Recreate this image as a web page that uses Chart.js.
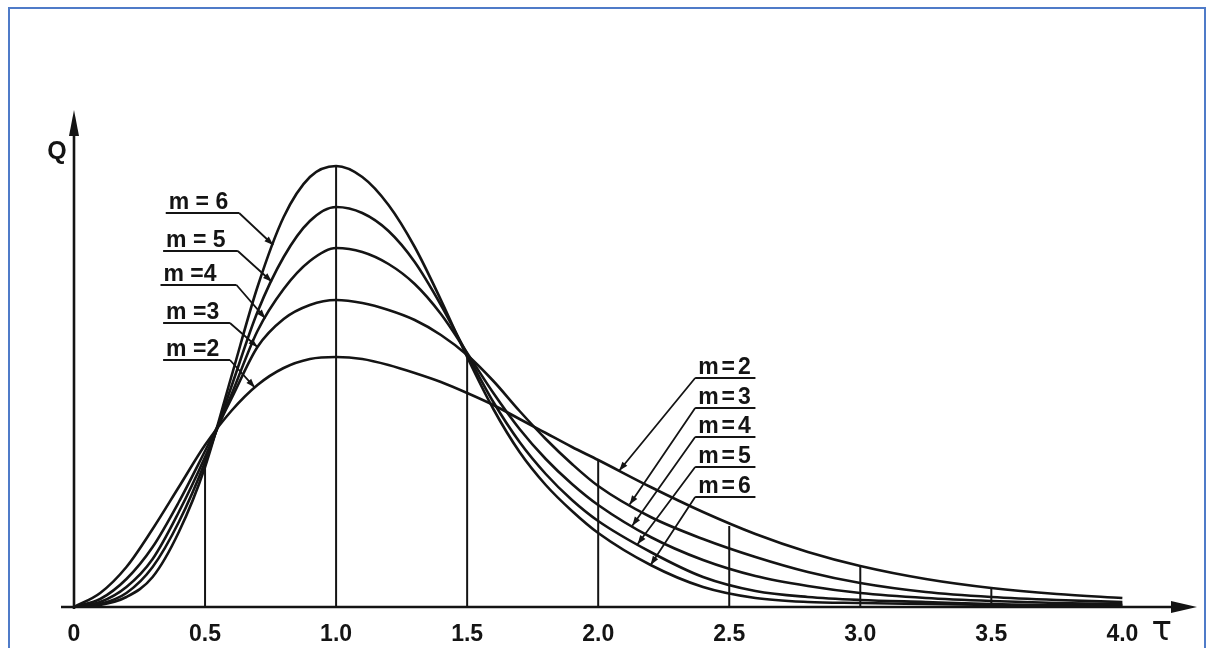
<!DOCTYPE html>
<html>
<head>
<meta charset="utf-8">
<script src="https://cdn.jsdelivr.net/npm/chart.js@4.4.0/dist/chart.umd.min.js"></script>
<style>
  html, body { margin: 0; padding: 0; background: #fff; }
  #wrap { position: relative; width: 1210px; height: 648px; overflow: hidden; }
  #frame { position: absolute; left: 8px; top: 7px; width: 1198px; height: 700px; border: 2px solid #4f7bc8; box-sizing: border-box; }
  canvas { position: absolute; left: 0; top: 0; }
</style>
</head>
<body>
<div id="wrap">
  <div id="frame"></div>
  <canvas id="chart" width="1210" height="648"></canvas>
</div>
<script>
// dimensionless time t/tp
const tau = [0, 0.1, 0.2, 0.3, 0.4, 0.5, 0.6, 0.7, 0.8, 0.9, 1.0, 1.1, 1.2, 1.3, 1.4, 1.5, 1.6, 1.7, 1.8, 1.9, 2.0, 2.2, 2.4, 2.6, 2.8, 3.0, 3.25, 3.5, 3.75, 4.0];

// Q, one list per m
const m2 = [0, 0.14, 0.40, 0.78, 1.20, 1.62, 1.96, 2.22, 2.39, 2.48, 2.50, 2.48, 2.42, 2.34, 2.25, 2.14, 2.02, 1.88, 1.74, 1.60, 1.47, 1.20, 0.95, 0.73, 0.55, 0.41, 0.28, 0.19, 0.13, 0.09];
const m3 = [0, 0.08, 0.28, 0.60, 1.05, 1.56, 2.08, 2.60, 2.88, 3.02, 3.07, 3.04, 2.97, 2.87, 2.72, 2.52, 2.26, 1.96, 1.68, 1.43, 1.21, 0.90, 0.68, 0.50, 0.35, 0.24, 0.15, 0.10, 0.07, 0.05];
const m4 = [0, 0.05, 0.20, 0.48, 0.95, 1.50, 2.12, 2.76, 3.18, 3.46, 3.59, 3.55, 3.43, 3.23, 2.93, 2.54, 2.14, 1.78, 1.48, 1.23, 1.02, 0.70, 0.47, 0.31, 0.21, 0.14, 0.09, 0.06, 0.04, 0.03];
const m5 = [0, 0.03, 0.14, 0.40, 0.85, 1.45, 2.20, 2.95, 3.50, 3.86, 4.00, 3.94, 3.76, 3.45, 3.02, 2.53, 2.05, 1.65, 1.33, 1.07, 0.86, 0.55, 0.30, 0.16, 0.10, 0.07, 0.05, 0.03, 0.02, 0.02];
const m6 = [0, 0.02, 0.10, 0.30, 0.75, 1.40, 2.30, 3.20, 3.90, 4.30, 4.41, 4.30, 4.02, 3.60, 3.07, 2.50, 1.98, 1.55, 1.22, 0.96, 0.74, 0.42, 0.20, 0.09, 0.05, 0.04, 0.03, 0.02, 0.01, 0.01];
const series = [m2, m3, m4, m5, m6];

// vertical guide lines from the axis up to the curves
const gridTau = [0.5, 1.0, 1.5, 2.0, 2.5, 3.0, 3.5];
const gridTop = [1.44, 4.41, 2.50, 1.47, 0.81, 0.41, 0.18];

const xTicks = [0, 0.5, 1.0, 1.5, 2.0, 2.5, 3.0, 3.5, 4.0];

// labels with leader lines: s = index in series, q = underline level, t0/t1 = underline ends, tip = tau on curve
const leftLabels = [
  { text: 'm = 6', s: 4, q: 3.94, t0: 0.35, t1: 0.63, tip: 0.76 },
  { text: 'm = 5', s: 3, q: 3.56, t0: 0.34, t1: 0.625, tip: 0.755 },
  { text: 'm =4', s: 2, q: 3.22, t0: 0.33, t1: 0.62, tip: 0.73 },
  { text: 'm =3', s: 1, q: 2.84, t0: 0.34, t1: 0.595, tip: 0.70 },
  { text: 'm =2', s: 0, q: 2.47, t0: 0.34, t1: 0.595, tip: 0.69 }
];
const rightLabels = [
  { text: 'm=2', s: 0, q: 2.29, t0: 2.37, t1: 2.60, tip: 2.08 },
  { text: 'm=3', s: 1, q: 1.99, t0: 2.37, t1: 2.60, tip: 2.12 },
  { text: 'm=4', s: 2, q: 1.70, t0: 2.37, t1: 2.60, tip: 2.13 },
  { text: 'm=5', s: 3, q: 1.40, t0: 2.37, t1: 2.60, tip: 2.15 },
  { text: 'm=6', s: 4, q: 1.10, t0: 2.37, t1: 2.60, tip: 2.20 }
];

const INK = '#141414';

function qAt(arr, t) {
  for (let i = 1; i < tau.length; i++) {
    if (t <= tau[i]) {
      const f = (t - tau[i - 1]) / (tau[i] - tau[i - 1]);
      return arr[i - 1] + f * (arr[i] - arr[i - 1]);
    }
  }
  return arr[arr.length - 1];
}

function arrowHead(ctx, fx, fy, tx, ty, len, half) {
  const a = Math.atan2(ty - fy, tx - fx);
  ctx.beginPath();
  ctx.moveTo(tx, ty);
  ctx.lineTo(tx - len * Math.cos(a) + half * Math.sin(a), ty - len * Math.sin(a) - half * Math.cos(a));
  ctx.lineTo(tx - len * Math.cos(a) - half * Math.sin(a), ty - len * Math.sin(a) + half * Math.cos(a));
  ctx.closePath();
  ctx.fill();
}

const decor = {
  id: 'decor',
  afterDatasetsDraw(chart) {
    const { ctx, chartArea } = chart;
    const x = chart.scales.x, y = chart.scales.y;
    const X = v => x.getPixelForValue(v);
    const Y = v => y.getPixelForValue(v);
    ctx.save();
    ctx.strokeStyle = INK;
    ctx.fillStyle = INK;

    // axes with arrows
    const x0 = X(0), y0 = Y(0);
    const xEnd = chartArea.right - 4;
    ctx.lineWidth = 2.6;
    ctx.beginPath();
    ctx.moveTo(x0 - 13, y0);
    ctx.lineTo(xEnd - 20, y0);
    ctx.stroke();
    arrowHead(ctx, x0, y0, xEnd, y0, 26, 6);
    const yEnd = Y(4.97);
    ctx.beginPath();
    ctx.moveTo(x0, y0 + 2);
    ctx.lineTo(x0, yEnd + 20);
    ctx.stroke();
    arrowHead(ctx, x0, y0, x0, yEnd, 26, 5);

    // axis names
    ctx.font = 'bold 25px "Liberation Sans"';
    ctx.textAlign = 'center';
    ctx.textBaseline = 'middle';
    ctx.fillText('Q', x0 - 17, Y(4.55));
    ctx.font = '34px "DejaVu Sans"';
    ctx.fillText('τ', X(4.15), y0 + 24);

    // curve labels
    ctx.lineWidth = 1.8;
    ctx.font = 'bold 23px "Liberation Sans"';
    ctx.textAlign = 'left';
    ctx.textBaseline = 'alphabetic';
    const drawLabel = (lb, fromRight) => {
      const yq = Y(lb.q);
      const a = X(lb.t0), b = X(lb.t1);
      const tx = X(lb.tip), ty = Y(qAt(series[lb.s], lb.tip));
      const sx = fromRight ? a : b;
      ctx.beginPath();
      ctx.moveTo(a, yq);
      ctx.lineTo(b, yq);
      ctx.moveTo(sx, yq);
      ctx.lineTo(tx, ty);
      ctx.stroke();
      arrowHead(ctx, sx, yq, tx, ty, 9, 3.2);
      ctx.letterSpacing = fromRight ? '3px' : '0px';
      ctx.fillText(lb.text, a + 3, yq - 4);
    };
    leftLabels.forEach(lb => drawLabel(lb, false));
    rightLabels.forEach(lb => drawLabel(lb, true));
    ctx.restore();
  }
};

const datasets = series.map((arr, k) => ({
  label: 'm=' + (k + 2),
  data: tau.map((t, i) => ({ x: t, y: arr[i] })),
  borderColor: INK,
  borderWidth: 2.6,
  pointRadius: 0,
  fill: false,
  cubicInterpolationMode: 'monotone'
})).concat(gridTau.map((t, i) => ({
  label: 'grid' + t,
  data: [{ x: t, y: 0 }, { x: t, y: gridTop[i] }],
  borderColor: INK,
  borderWidth: 2,
  pointRadius: 0,
  fill: false
})));

new Chart(document.getElementById('chart'), {
  type: 'line',
  data: { datasets: datasets },
  options: {
    responsive: false,
    animation: false,
    layout: { padding: { left: 74, right: 9, top: 107, bottom: 0 } },
    plugins: { legend: { display: false }, tooltip: { enabled: false } },
    scales: {
      x: {
        type: 'linear',
        min: 0,
        max: 4.3,
        grid: { display: false, drawTicks: false },
        border: { display: false },
        afterBuildTicks: s => { s.ticks = xTicks.map(v => ({ value: v })); },
        afterFit: s => { s.height = 41; },
        ticks: {
          padding: 14,
          maxRotation: 0,
          autoSkip: false,
          color: INK,
          font: { family: 'Liberation Sans', size: 23, weight: 'bold' },
          callback: v => (v === 0 ? '0' : v.toFixed(1))
        }
      },
      y: { type: 'linear', min: 0, max: 5, display: false }
    }
  },
  plugins: [decor]
});
</script>
</body>
</html>
